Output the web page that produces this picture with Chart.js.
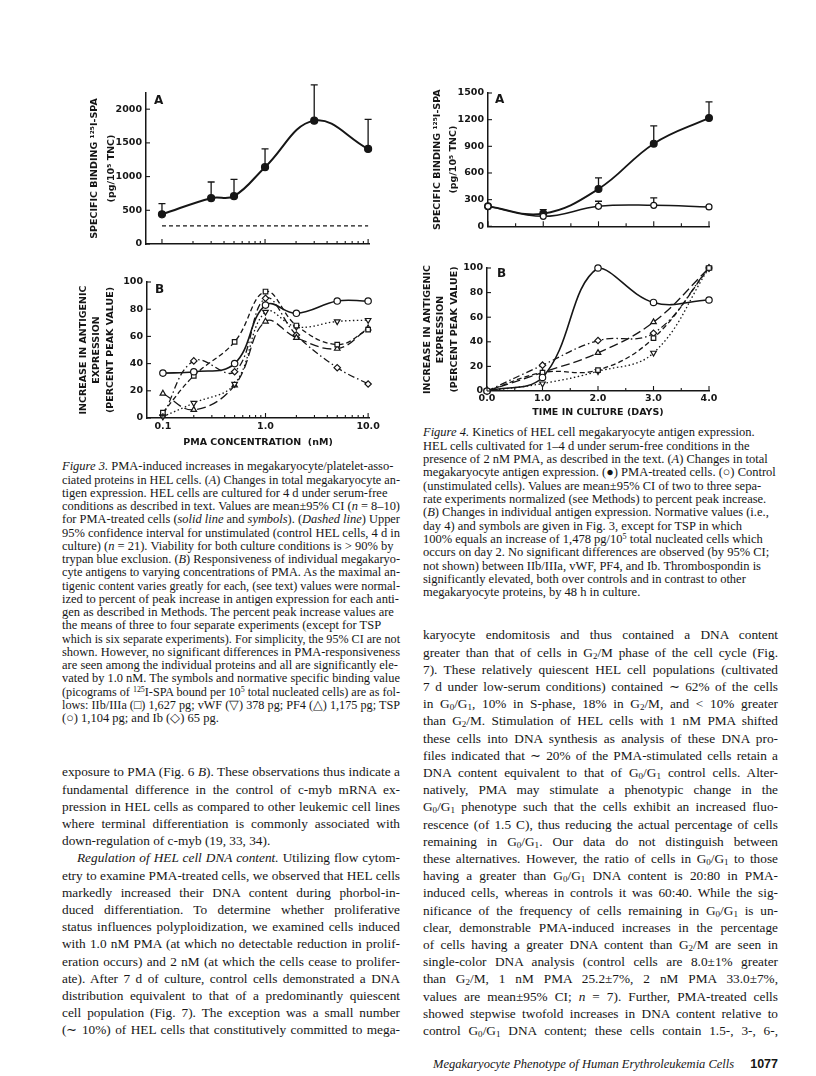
<!DOCTYPE html>
<html>
<head>
<meta charset="utf-8">
<script src="https://cdn.jsdelivr.net/npm/chart.js@4.4.1/dist/chart.umd.min.js"></script>
<style>
  html, body { margin: 0; padding: 0; background: #fff; }
  #page { position: relative; width: 816px; height: 1076px; overflow: hidden; background: #fff; color: #161616; }
  canvas { position: absolute; }
  .ln { position: absolute; white-space: nowrap; font-family: "Liberation Serif", "Times New Roman", serif; transform-origin: 0 50%; }
  .cap { font-size: 12.5px; }
  .txt { font-size: 13.3px; }
  .foot { font-size: 12.5px; font-style: italic; }
  .pg { font-family: "Liberation Sans", Arial, sans-serif; font-weight: bold; font-style: normal; margin-left: 16px; }
  sup { font-size: 0.65em; vertical-align: 0.45em; line-height: 0; }
  sub { font-size: 0.68em; vertical-align: -0.25em; line-height: 0; }
</style>
</head>
<body>
<div id="page">
  <canvas id="fig3a" width="355" height="180" style="left:40px;top:76px"></canvas>
  <canvas id="fig3b" width="355" height="194" style="left:40px;top:262px"></canvas>
  <canvas id="fig4a" width="330" height="160" style="left:410px;top:76px"></canvas>
  <canvas id="fig4b" width="330" height="170" style="left:410px;top:252px"></canvas>
</div>
<script>
// Figure 3A - total binding vs PMA concentration
const fig3aConc = [0.1, 0.3, 0.5, 1, 3, 10];
const fig3aBinding = [440, 680, 710, 1140, 1830, 1410];
const fig3aBindingUpper = [600, 920, 960, 1410, 2360, 1850];
const fig3aControlUpperCI = 270;
const fig3aTicks = [0, 500, 1000, 1500, 2000];

// Figure 3B - individual antigens vs PMA concentration
const fig3bConc = [0.1, 0.2, 0.5, 1, 2, 5, 10];
const fig3bIIbIIIa = [4, 31, 56, 93, 68, 54, 65];
const fig3bVWF = [1, 11, 25, 78, 67, 71, 72];
const fig3bPF4 = [18, 6, 24, 71, 59, 51, 66];
const fig3bTSP = [33, 34, 40, 83, 77, 86, 86];
const fig3bIb = [2, 42, 34, 88, 61, 37, 25];
const concLabels = [0.1, 1, 10];

// Figure 4A - total binding vs days in culture
const days = [0, 1, 2, 3, 4];
const fig4aPMA = [225, 143, 420, 930, 1220];
const fig4aPMAUpper = [null, 187, 545, 1130, 1400];
const fig4aControl = [225, 112, 225, 236, 218];
const fig4aControlUpper = [null, null, 282, 320, null];

// Figure 4B - individual antigens vs days in culture
const fig4bIIbIIIa = [0, 15, 17, 43, 100];
const fig4bVWF = [0, 6, 16, 31, 100];
const fig4bPF4 = [0, 15, 31, 56, 100];
const fig4bTSP = [0, 11, 100, 72, 74];
const fig4bIb = [0, 21, 41, 47, 100];

const ink = '#161616';
Chart.defaults.font.family = "'DejaVu Sans', sans-serif";
Chart.defaults.color = ink;

const tickFont = { family: "'DejaVu Sans', sans-serif", weight: 'bold', size: 9.5 };
const titleFont = lh => ({ family: "'DejaVu Sans', sans-serif", weight: 'bold', size: 9.5, lineHeight: lh + 'px' });

const pts = (xs, ys) => xs.map((x, i) => ({ x: x, y: ys[i] }));

// upper error bars (values only, drawn through the scales)
const errorBars = {
  id: 'errorBars',
  afterDatasetsDraw(chart) {
    const { ctx, scales: { x, y } } = chart;
    ctx.save();
    ctx.strokeStyle = ink;
    ctx.lineWidth = 1.3;
    chart.data.datasets.forEach(ds => {
      if (!ds.upper) return;
      ds.data.forEach((p, j) => {
        const u = ds.upper[j];
        if (u == null) return;
        const px = x.getPixelForValue(p.x);
        const py = y.getPixelForValue(p.y);
        const pu = y.getPixelForValue(u);
        ctx.beginPath();
        ctx.moveTo(px, py - 3);
        ctx.lineTo(px, pu);
        ctx.moveTo(px - 3.5, pu);
        ctx.lineTo(px + 3.5, pu);
        ctx.stroke();
      });
    });
    ctx.restore();
  }
};

// tick marks pointing into the plot
const innerTicks = {
  id: 'innerTicks',
  afterDraw(chart) {
    const { ctx, chartArea: a } = chart;
    ctx.save();
    ctx.strokeStyle = ink;
    ctx.lineWidth = 1.1;
    const xs = chart.scales.x, ys = chart.scales.y;
    xs.ticks.forEach(t => {
      const p = xs.getPixelForValue(t.value);
      const len = t.label !== '' ? 5 : 3;
      ctx.beginPath(); ctx.moveTo(p, a.bottom); ctx.lineTo(p, a.bottom - len); ctx.stroke();
    });
    ys.ticks.forEach(t => {
      const p = ys.getPixelForValue(t.value);
      ctx.beginPath(); ctx.moveTo(a.left, p); ctx.lineTo(a.left + 4, p); ctx.stroke();
    });
    ctx.restore();
  }
};

const panelLabel = {
  id: 'panelLabel',
  afterDraw(chart, args, opts) {
    const { ctx, chartArea: a } = chart;
    ctx.save();
    ctx.font = "bold 12px 'DejaVu Sans', sans-serif";
    ctx.fillStyle = ink;
    ctx.textBaseline = 'top';
    ctx.fillText(opts.text, a.left + (opts.dx || 8), a.top + (opts.dy || 0));
    ctx.restore();
  }
};

const logTicks = s => {
  const t = [];
  for (let e = -1; e < 1; e++) for (let k = 1; k < 10; k++) t.push({ value: k * Math.pow(10, e) });
  t.push({ value: 10 });
  s.ticks = t;
};
const concLabel = v => {
  const hit = concLabels.find(c => Math.abs(c - v) < 1e-9);
  return hit === undefined ? '' : (hit >= 1 ? hit.toFixed(1) : String(hit));
};
const plain = v => String(v);

const axisBase = () => ({
  grid: { display: false, drawTicks: false },
  border: { display: true, color: ink, width: 1.5 },
  ticks: { font: tickFont, color: ink, padding: 4, autoSkip: false, maxRotation: 0, callback: plain }
});

const lineStyle = (data, style, dash, rot, width) => ({
  data: data,
  borderColor: ink,
  borderWidth: width || 1.3,
  borderDash: dash,
  pointStyle: style,
  pointRotation: rot || 0,
  pointRadius: 3.2,
  pointBackgroundColor: '#fff',
  pointBorderColor: ink,
  pointBorderWidth: 1.2,
  tension: 0.4,
  clip: false
});

const baseOptions = (padding, label) => ({
  animation: false,
  responsive: false,
  events: [],
  layout: { padding: padding },
  plugins: { legend: { display: false }, tooltip: { enabled: false }, panelLabel: label }
});

// ---- Figure 3A
{
  const o = baseOptions({ top: 17, right: 26, left: 0, bottom: 0 }, { text: 'A', dx: 8, dy: 2 });
  const x = axisBase();
  Object.assign(x, { type: 'logarithmic', min: 0.07, max: 10.2, afterBuildTicks: logTicks, afterFit: s => { s.height = 12; } });
  x.ticks = Object.assign({}, x.ticks, { display: false, callback: concLabel });
  const y = axisBase();
  Object.assign(y, {
    min: 0, max: 2240,
    afterBuildTicks: s => { s.ticks = fig3aTicks.map(v => ({ value: v })); },
    afterFit: s => { s.width = 106; },
    title: { display: true, text: ['SPECIFIC BINDING \u00b9\u00b2\u2075I-SPA', '(pg/10\u2075 TNC)'], font: titleFont(17), color: ink, padding: { top: 46, bottom: 0 } }
  });
  o.scales = { x: x, y: y };
  const pma = lineStyle(pts(fig3aConc, fig3aBinding), 'circle', [], 0, 2);
  pma.pointBackgroundColor = ink;
  pma.pointRadius = 3.5;
  pma.upper = fig3aBindingUpper;
  const ctrl = lineStyle(pts([fig3aConc[0], fig3aConc[fig3aConc.length - 1]], [fig3aControlUpperCI, fig3aControlUpperCI]), 'circle', [4, 3], 0, 1.2);
  ctrl.pointRadius = 0;
  ctrl.tension = 0;
  new Chart(document.getElementById('fig3a'), { type: 'line', data: { datasets: [pma, ctrl] }, options: o, plugins: [errorBars, innerTicks, panelLabel] });
}

// ---- Figure 3B
{
  const o = baseOptions({ top: 20, right: 26, left: 0, bottom: 0 }, { text: 'B', dx: 8, dy: 2 });
  const x = axisBase();
  Object.assign(x, {
    type: 'logarithmic', min: 0.07, max: 10.2, afterBuildTicks: logTicks, afterFit: s => { s.height = 38; },
    title: { display: true, text: 'PMA CONCENTRATION  (nM)', font: titleFont(12), color: ink, padding: { top: 0, bottom: 7 } }
  });
  x.ticks = Object.assign({}, x.ticks, { callback: concLabel, padding: 3 });
  const y = axisBase();
  Object.assign(y, {
    min: 0, max: 100, ticks: Object.assign({}, y.ticks, { stepSize: 20 }),
    afterFit: s => { s.width = 107; },
    title: { display: true, text: ['INCREASE IN ANTIGENIC', 'EXPRESSION', '(PERCENT PEAK VALUE)'], font: titleFont(13.3), color: ink, padding: { top: 37, bottom: 0 } }
  });
  o.scales = { x: x, y: y };
  const ds = [
    lineStyle(pts(fig3bConc, fig3bTSP), 'circle', [], 0, 1.6),
    lineStyle(pts(fig3bConc, fig3bIIbIIIa), 'rect', [5, 3]),
    lineStyle(pts(fig3bConc, fig3bVWF), 'triangle', [1.5, 2.5], 180),
    lineStyle(pts(fig3bConc, fig3bPF4), 'triangle', [9, 4]),
    lineStyle(pts(fig3bConc, fig3bIb), 'rectRot', [7, 3, 1.5, 3])
  ];
  new Chart(document.getElementById('fig3b'), { type: 'line', data: { datasets: ds }, options: o, plugins: [innerTicks, panelLabel] });
}

// ---- Figure 4A
{
  const o = baseOptions({ top: 17, right: 31, left: 0, bottom: 0 }, { text: 'A', dx: 7, dy: 1 });
  const x = axisBase();
  Object.assign(x, { type: 'linear', min: 0, max: 4, afterFit: s => { s.height = 9; } });
  x.ticks = Object.assign({}, x.ticks, { display: false, stepSize: 0.5, callback: v => (v % 1 === 0 ? v.toFixed(1) : '') });
  const y = axisBase();
  Object.assign(y, {
    min: 0, max: 1500, ticks: Object.assign({}, y.ticks, { stepSize: 300 }),
    afterFit: s => { s.width = 78; },
    title: { display: true, text: ['SPECIFIC BINDING \u00b9\u00b2\u2075I-SPA', '(pg/10\u2075 TNC)'], font: titleFont(16), color: ink, padding: { top: 20, bottom: 0 } }
  });
  o.scales = { x: x, y: y };
  const pma = lineStyle(pts(days, fig4aPMA), 'circle', [], 0, 1.8);
  pma.pointBackgroundColor = ink;
  pma.pointRadius = 3.4;
  pma.upper = fig4aPMAUpper;
  const ctrl = lineStyle(pts(days, fig4aControl), 'circle', [], 0, 1.5);
  ctrl.pointRadius = 3;
  ctrl.upper = fig4aControlUpper;
  new Chart(document.getElementById('fig4a'), { type: 'line', data: { datasets: [ctrl, pma] }, options: o, plugins: [errorBars, innerTicks, panelLabel] });
}

// ---- Figure 4B
{
  const o = baseOptions({ top: 16, right: 31, left: 0, bottom: 0 }, { text: 'B', dx: 10, dy: 0 });
  const x = axisBase();
  Object.assign(x, {
    type: 'linear', min: 0, max: 4, afterFit: s => { s.height = 31; },
    title: { display: true, text: 'TIME IN CULTURE (DAYS)', font: titleFont(12), color: ink, padding: { top: 0, bottom: 3 } }
  });
  x.ticks = Object.assign({}, x.ticks, { stepSize: 0.5, padding: 2, callback: v => (v % 1 === 0 ? v.toFixed(1) : '') });
  const y = axisBase();
  Object.assign(y, {
    min: 0, max: 100, ticks: Object.assign({}, y.ticks, { stepSize: 20 }),
    afterFit: s => { s.width = 77; },
    title: { display: true, text: ['INCREASE IN ANTIGENIC', 'EXPRESSION', '(PERCENT PEAK VALUE)'], font: titleFont(13.3), color: ink, padding: { top: 11, bottom: 0 } }
  });
  o.scales = { x: x, y: y };
  const ds = [
    lineStyle(pts(days, fig4bTSP), 'circle', [], 0, 1.6),
    lineStyle(pts(days, fig4bIIbIIIa), 'rect', [5, 3]),
    lineStyle(pts(days, fig4bVWF), 'triangle', [1.5, 2.5], 180),
    lineStyle(pts(days, fig4bPF4), 'triangle', [9, 4]),
    lineStyle(pts(days, fig4bIb), 'rectRot', [7, 3, 1.5, 3])
  ];
  new Chart(document.getElementById('fig4b'), { type: 'line', data: { datasets: ds }, options: o, plugins: [innerTicks, panelLabel] });
}

// ---- text
const fig3Caption = [
  '<i>Figure 3.</i> PMA-induced increases in megakaryocyte/platelet-asso-',
  'ciated proteins in HEL cells. (<i>A</i>) Changes in total megakaryocyte an-',
  'tigen expression. HEL cells are cultured for 4 d under serum-free',
  'conditions as described in text. Values are mean\u00b195% CI (<i>n</i> = 8\u201310)',
  'for PMA-treated cells (<i>solid line</i> and <i>symbols</i>). (<i>Dashed line</i>) Upper',
  '95% confidence interval for unstimulated (control HEL cells, 4 d in',
  'culture) (<i>n</i> = 21). Viability for both culture conditions is &gt; 90% by',
  'trypan blue exclusion. (<i>B</i>) Responsiveness of individual megakaryo-',
  'cyte antigens to varying concentrations of PMA. As the maximal an-',
  'tigenic content varies greatly for each, (see text) values were normal-',
  'ized to percent of peak increase in antigen expression for each anti-',
  'gen as described in Methods. The percent peak increase values are',
  'the means of three to four separate experiments (except for TSP',
  'which is six separate experiments). For simplicity, the 95% CI are not',
  'shown. However, no significant differences in PMA-responsiveness',
  'are seen among the individual proteins and all are significantly ele-',
  'vated by 1.0 nM. The symbols and normative specific binding value',
  '(picograms of <sup>125</sup>I-SPA bound per 10<sup>5</sup> total nucleated cells) are as fol-',
  'lows: IIb/IIIa (\u25a1) 1,627 pg; vWF (\u25bd) 378 pg; PF4 (\u25b3) 1,175 pg; TSP',
  '(\u25cb) 1,104 pg; and Ib (\u25c7) 65 pg.'
];

const fig4Caption = [
  '<i>Figure 4.</i> Kinetics of HEL cell megakaryocyte antigen expression.',
  'HEL cells cultivated for 1\u20134 d under serum-free conditions in the',
  'presence of 2 nM PMA, as described in the text. (<i>A</i>) Changes in total',
  'megakaryocyte antigen expression. (\u25cf) PMA-treated cells. (\u25cb) Control',
  '(unstimulated cells). Values are mean\u00b195% CI of two to three sepa-',
  'rate experiments normalized (see Methods) to percent peak increase.',
  '(<i>B</i>) Changes in individual antigen expression. Normative values (i.e.,',
  'day 4) and symbols are given in Fig. 3, except for TSP in which',
  '100% equals an increase of 1,478 pg/10<sup>5</sup> total nucleated cells which',
  'occurs on day 2. No significant differences are observed (by 95% CI;',
  'not shown) between IIb/IIIa, vWF, PF4, and Ib. Thrombospondin is',
  'significantly elevated, both over controls and in contrast to other',
  'megakaryocyte proteins, by 48 h in culture.'
];

const G01 = 'G<sub>0</sub>/G<sub>1</sub>';
const G2 = 'G<sub>2</sub>';

const leftBody = [
  'exposure to PMA (Fig. 6 <i>B</i>). These observations thus indicate a',
  'fundamental difference in the control of c-myb mRNA ex-',
  'pression in HEL cells as compared to other leukemic cell lines',
  'where terminal differentiation is commonly associated with',
  '|down-regulation of c-myb (19, 33, 34).',
  '><i>Regulation of HEL cell DNA content.</i> Utilizing flow cytom-',
  'etry to examine PMA-treated cells, we observed that HEL cells',
  'markedly increased their DNA content during phorbol-in-',
  'duced differentiation. To determine whether proliferative',
  'status influences polyploidization, we examined cells induced',
  'with 1.0 nM PMA (at which no detectable reduction in prolif-',
  'eration occurs) and 2 nM (at which the cells cease to prolifer-',
  'ate). After 7 d of culture, control cells demonstrated a DNA',
  'distribution equivalent to that of a predominantly quiescent',
  'cell population (Fig. 7). The exception was a small number',
  '(\u223c 10%) of HEL cells that constitutively committed to mega-'
];

const rightBody = [
  'karyocyte endomitosis and thus contained a DNA content',
  'greater than that of cells in ' + G2 + '/M phase of the cell cycle (Fig.',
  '7). These relatively quiescent HEL cell populations (cultivated',
  '7 d under low-serum conditions) contained \u223c 62% of the cells',
  'in ' + G01 + ', 10% in S-phase, 18% in ' + G2 + '/M, and &lt; 10% greater',
  'than ' + G2 + '/M. Stimulation of HEL cells with 1 nM PMA shifted',
  'these cells into DNA synthesis as analysis of these DNA pro-',
  'files indicated that \u223c 20% of the PMA-stimulated cells retain a',
  'DNA content equivalent to that of ' + G01 + ' control cells. Alter-',
  'natively, PMA may stimulate a phenotypic change in the',
  G01 + ' phenotype such that the cells exhibit an increased fluo-',
  'rescence (of 1.5 C), thus reducing the actual percentage of cells',
  'remaining in ' + G01 + '. Our data do not distinguish between',
  'these alternatives. However, the ratio of cells in ' + G01 + ' to those',
  'having a greater than ' + G01 + ' DNA content is 20:80 in PMA-',
  'induced cells, whereas in controls it was 60:40. While the sig-',
  'nificance of the frequency of cells remaining in ' + G01 + ' is un-',
  'clear, demonstrable PMA-induced increases in the percentage',
  'of cells having a greater DNA content than ' + G2 + '/M are seen in',
  'single-color DNA analysis (control cells are 8.0\u00b11% greater',
  'than ' + G2 + '/M, 1 nM PMA 25.2\u00b17%, 2 nM PMA 33.0\u00b17%,',
  'values are mean\u00b195% CI; <i>n</i> = 7). Further, PMA-treated cells',
  'showed stepwise twofold increases in DNA content relative to',
  'control ' + G01 + ' DNA content; these cells contain 1.5-, 3-, 6-,'
];

const page = document.getElementById('page');

function placeLines(lines, o) {
  lines.forEach((src, i) => {
    let html = src, just = o.justify, indent = 0;
    if (html[0] === '|') { just = false; html = html.slice(1); }
    if (html[0] === '>') { indent = 15; html = html.slice(1); }
    const d = document.createElement('div');
    d.className = 'ln ' + o.cls;
    d.style.left = (o.x + indent) + 'px';
    d.style.top = (o.y + i * o.lh - o.lh / 2) + 'px';
    d.style.lineHeight = o.lh + 'px';
    d.style.height = o.lh + 'px';
    d.innerHTML = html;
    page.appendChild(d);
    const w = d.getBoundingClientRect().width;
    const target = o.width - indent;
    if (just) {
      const spaces = (d.textContent.match(/ /g) || []).length;
      if (w <= target && spaces) d.style.wordSpacing = ((target - w) / spaces) + 'px';
      else d.style.transform = 'scaleX(' + (target / w) + ')';
    } else if (w > target) {
      d.style.transform = 'scaleX(' + (target / w) + ')';
    }
  });
}

const leftX = 62, leftW = 338, rightX = 423, rightW = 355;
placeLines(fig3Caption, { x: leftX, y: 467, lh: 13.25, width: leftW, cls: 'cap', justify: false });
placeLines(fig4Caption, { x: rightX, y: 433, lh: 13.33, width: rightW, cls: 'cap', justify: false });
placeLines(leftBody, { x: leftX, y: 772, lh: 17.2, width: leftW, cls: 'txt', justify: true });
placeLines(rightBody, { x: rightX, y: 635, lh: 17.2, width: rightW, cls: 'txt', justify: true });

const foot = document.createElement('div');
foot.className = 'ln foot';
foot.innerHTML = 'Megakaryocyte Phenotype of Human Erythroleukemia Cells<span class="pg">1077</span>';
foot.style.top = (1064 - 9) + 'px';
foot.style.lineHeight = '18px';
page.appendChild(foot);
foot.style.left = (rightX + rightW - foot.getBoundingClientRect().width) + 'px';
</script>
</body>
</html>
